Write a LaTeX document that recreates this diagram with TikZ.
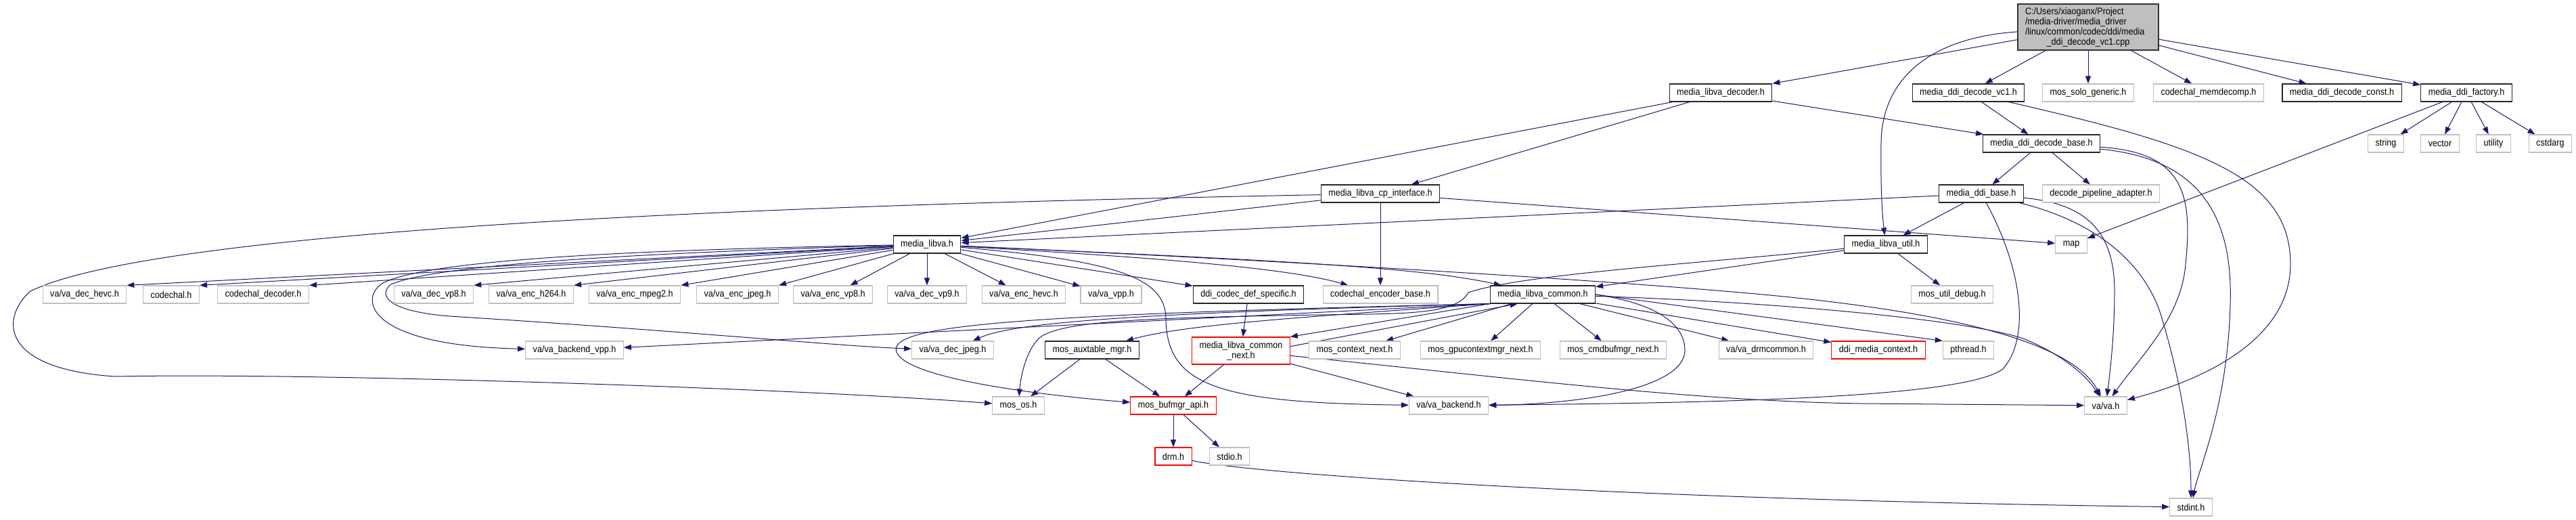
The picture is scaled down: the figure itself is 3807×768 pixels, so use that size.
\documentclass[tikz,border=0pt]{standalone}
\usepackage{fontspec}
\newfontfamily\doxfont{Liberation Sans}[FakeStretch=0.9]
\usetikzlibrary{arrows.meta,backgrounds}
\definecolor{edgeblue}{RGB}{25,25,112}
\definecolor{boxgrey}{RGB}{191,191,191}

\begin{document}
\begin{tikzpicture}[x=1pt, y=-1pt,
  fileBox/.style={rectangle, minimum height=26pt, inner xsep=11pt, inner ysep=0pt,
                  line width=1.2pt, fill=white, text=black,
                  font=\doxfont\fontsize{14}{15}\selectfont},
  docFile/.style={fileBox, draw=black!85},
  extFile/.style={fileBox, draw=boxgrey},
  cutFile/.style={fileBox, draw=red},
  rootFile/.style={fileBox, draw=black!80, fill=boxgrey, text width=186pt,
                   align=left, inner ysep=5pt},
  incl/.style={draw=edgeblue, line width=1pt, ->},
  >={Triangle[length=11pt,width=8pt]}
]
  \useasboundingbox (0,0) rectangle (3807,768);

  % === Source file ===
  \node[rootFile] (root) at (3086,40)
    {C:/Users/xiaoganx/Project\\/media-driver/media\_driver\\/linux/common/codec/ddi/media\\\makebox[186pt]{\_ddi\_decode\_vc1.cpp}};

  % === Direct includes ===
  \node[docFile] (decoder)   at (2543,137) {media\_libva\_decoder.h};
  \node[docFile] (decvc1)    at (2909,137) {media\_ddi\_decode\_vc1.h};
  \node[extFile] (sologen)   at (3086,137) {mos\_solo\_generic.h};
  \node[extFile] (memdecomp) at (3264,137) {codechal\_memdecomp.h};
  \node[docFile] (decconst)  at (3461,137) {media\_ddi\_decode\_const.h};
  \node[docFile] (factory)   at (3645,137) {media\_ddi\_factory.h};

  \node[docFile] (decbase) at (3017,212) {media\_ddi\_decode\_base.h};
  \node[extFile] (string)  at (3526,212) {string};
  \node[extFile] (vector)  at (3606,212) {vector};
  \node[extFile] (utility) at (3685,212) {utility};
  \node[extFile] (cstdarg) at (3769,212) {cstdarg};

  \node[docFile] (cpintf)    at (2040,286) {media\_libva\_cp\_interface.h};
  \node[docFile] (ddibase)   at (2928,286) {media\_ddi\_base.h};
  \node[extFile] (pipeadapt) at (3105,286) {decode\_pipeline\_adapter.h};

  \node[docFile] (libva)     at (1370,361) {media\_libva.h};
  \node[docFile] (libvautil) at (2787,361) {media\_libva\_util.h};
  \node[extFile] (map)       at (3061,361) {map};

  % === media_libva.h level ===
  \node[extFile] (decHevc)     at (125,435)  {va/va\_dec\_hevc.h};
  \node[extFile] (codechal)    at (253,435)  {codechal.h};
  \node[extFile] (chalDecoder) at (389,435)  {codechal\_decoder.h};
  \node[extFile] (decVp8)      at (641,435)  {va/va\_dec\_vp8.h};
  \node[extFile] (encH264)     at (785,435)  {va/va\_enc\_h264.h};
  \node[extFile] (encMpeg2)    at (938,435)  {va/va\_enc\_mpeg2.h};
  \node[extFile] (encJpeg)     at (1090,435) {va/va\_enc\_jpeg.h};
  \node[extFile] (encVp8)      at (1231,435) {va/va\_enc\_vp8.h};
  \node[extFile] (decVp9)      at (1370,435) {va/va\_dec\_vp9.h};
  \node[extFile] (encHevc)     at (1513,435) {va/va\_enc\_hevc.h};
  \node[extFile] (vaVpp)       at (1642,435) {va/va\_vpp.h};
  \node[docFile] (codecDef)    at (1845,435) {ddi\_codec\_def\_specific.h};
  \node[extFile] (encBase)     at (2040,435) {codechal\_encoder\_base.h};
  \node[docFile] (common)      at (2280,435) {media\_libva\_common.h};
  \node[extFile] (utilDebug)   at (2885,435) {mos\_util\_debug.h};

  \node[extFile] (backendVpp) at (849,517)  {va/va\_backend\_vpp.h};
  \node[extFile] (decJpeg)    at (1408,517) {va/va\_dec\_jpeg.h};
  \node[docFile] (auxtable)   at (1614,517) {mos\_auxtable\_mgr.h};
  \node[cutFile, align=center, minimum height=40pt] (commonNext) at (1834,518)
    {media\_libva\_common\\\_next.h};
  \node[extFile] (ctxNext)    at (2002,517) {mos\_context\_next.h};
  \node[extFile] (gpuNext)    at (2188,517) {mos\_gpucontextmgr\_next.h};
  \node[extFile] (cmdNext)    at (2384,517) {mos\_cmdbufmgr\_next.h};
  \node[extFile] (drmcommon)  at (2610,517) {va/va\_drmcommon.h};
  \node[cutFile] (mediaCtx)   at (2776,517) {ddi\_media\_context.h};
  \node[extFile] (pthread)    at (2909,517) {pthread.h};

  \node[extFile] (mosos)   at (1505,599) {mos\_os.h};
  \node[cutFile] (bufmgr)  at (1734,599) {mos\_bufmgr\_api.h};
  \node[extFile] (backend) at (2141,599) {va/va\_backend.h};
  \node[extFile] (vah)     at (3112,599) {va/va.h};

  \node[cutFile] (drm)    at (1734,674) {drm.h};
  \node[extFile] (stdio)  at (1817,674) {stdio.h};
  \node[extFile] (stdint) at (3238,749) {stdint.h};

  \begin{pgfonlayer}{background}
  % === Edges from the source file ===
  \draw[incl] (root) -- (decoder);
  \draw[incl] (root) -- (decvc1);
  \draw[incl] (root) -- (sologen);
  \draw[incl] (root) -- (memdecomp);
  \draw[incl] (root) -- (decconst);
  \draw[incl] (root) -- (factory);
  \draw[incl] (root) .. controls (2860,55) and (2782,110) .. (2780,210)
    .. controls (2779,280) and (2782,320) .. (libvautil);

  % === Decoder headers ===
  \draw[incl] (decoder) -- (libva);
  \draw[incl] (decoder) -- (cpintf);
  \draw[incl] (decoder) -- (decbase);
  \draw[incl] (decvc1) -- (decbase);
  \draw[incl] (decvc1) .. controls (3250,215) and (3385,260) .. (3385,390)
    .. controls (3385,500) and (3260,560) .. (vah);
  \draw[incl] (decbase) -- (ddibase);
  \draw[incl] (decbase) -- (pipeadapt);
  \draw[incl] (decbase) .. controls (3230,225) and (3240,290) .. (3230,390)
    .. controls (3224,470) and (3160,530) .. (vah);
  \draw[incl] (decbase) .. controls (3260,235) and (3300,330) .. (3296,450)
    .. controls (3292,600) and (3250,690) .. (stdint);
  \draw[incl] (ddibase) -- (libva);
  \draw[incl] (ddibase) -- (libvautil);
  \draw[incl] (ddibase) .. controls (3070,300) and (3125,330) .. (3125,430)
    .. controls (3125,500) and (3117,560) .. (vah);
  \draw[incl] (ddibase) .. controls (3110,330) and (3175,400) .. (3195,470)
    .. controls (3225,570) and (3238,660) .. (stdint);
  \draw[incl] (ddibase) .. controls (2990,400) and (3000,500) .. (2960,545)
    .. controls (2900,590) and (2500,595) .. (backend);

  % === Factory ===
  \draw[incl] (factory) -- (string);
  \draw[incl] (factory) -- (vector);
  \draw[incl] (factory) -- (utility);
  \draw[incl] (factory) -- (cstdarg);
  \draw[incl] (factory) -- (map);

  % === CP interface ===
  \draw[incl] (cpintf) -- (libva);
  \draw[incl] (cpintf) -- (map);
  \draw[incl] (cpintf) -- (encBase);
  \draw[incl] (cpintf) .. controls (1300,300) and (250,330) .. (45,430)
    .. controls (0,470) and (0,545) .. (170,556)
    .. controls (480,550) and (1200,575) .. (mosos);

  % === media_libva.h ===
  \draw[incl] (libva) -- (decHevc.north east);
  \draw[incl] (libva) -- (codechal.north east);
  \draw[incl] (libva) -- (chalDecoder.north east);
  \draw[incl] (libva) -- (decVp8.north east);
  \draw[incl] (libva) -- (encH264.north east);
  \draw[incl] (libva) -- (encMpeg2.north east);
  \draw[incl] (libva) -- (encJpeg.north east);
  \draw[incl] (libva) -- (encVp8);
  \draw[incl] (libva) -- (decVp9);
  \draw[incl] (libva) -- (encHevc);
  \draw[incl] (libva) -- (vaVpp);
  \draw[incl] (libva) -- (codecDef);
  \draw[incl] (libva) .. controls (1700,380) and (1900,395) .. (encBase);
  \draw[incl] (libva) .. controls (1900,385) and (2100,395) .. (common);
  \draw[incl] (libva) .. controls (1900,385) and (2500,420) .. (2700,445)
    .. controls (2950,475) and (3070,520) .. (vah);
  \draw[incl] (libva) .. controls (1650,385) and (1722,410) .. (1723,470)
    .. controls (1724,570) and (1800,595) .. (backend);
  \draw[incl] (libva) .. controls (1000,368) and (640,380) .. (566,418)
    .. controls (530,440) and (540,510) .. (backendVpp);
  \draw[incl] (libva) .. controls (1000,372) and (650,388) .. (578,420)
    .. controls (558,435) and (570,462) .. (680,468)
    .. controls (1000,488) and (1250,512) .. (decJpeg);
  \draw[incl] (codecDef) -- (commonNext);

  % === media_libva_common.h ===
  \draw[incl] (common) -- (ctxNext);
  \draw[incl] (common) -- (gpuNext);
  \draw[incl] (common) -- (cmdNext);
  \draw[incl] (common) -- (drmcommon);
  \draw[incl] (common) -- (mediaCtx);
  \draw[incl] (common.east) -- (pthread.north west);
  \draw[incl] (common) .. controls (2600,445) and (2900,470) .. (2990,500)
    .. controls (3040,520) and (3080,550) .. (vah);
  \draw[incl] (common.east) .. controls (2460,450) and (2490,485) .. (2490,517)
    .. controls (2490,575) and (2330,597) .. (backend);
  \draw[incl] (common.south west) -- (backendVpp);
  \draw[incl] (common.south west) .. controls (1700,462) and (1500,475) .. (decJpeg);
  \draw[incl] (common.south west) .. controls (1900,470) and (1750,480) .. (auxtable);
  \draw[incl] (common.south west) .. controls (1500,465) and (1310,480) .. (1325,520)
    .. controls (1340,560) and (1550,585) .. (bufmgr);
  \draw[incl] (common.south west) -- (commonNext.north east);

  % === media_libva_util.h ===
  \draw[incl] (libvautil) -- (utilDebug);
  \draw[incl] (libvautil) -- (common);
  \draw[incl] (libvautil) .. controls (2500,390) and (2250,405) .. (2170,432)
    .. controls (2150,470) and (2050,462) .. (1900,466)
    .. controls (1650,470) and (1560,478) .. (1535,500)
    .. controls (1515,520) and (1508,560) .. (mosos);

  % === Lower levels ===
  \draw[incl] (commonNext.5) -- (common.200);
  \draw[incl] (commonNext) -- (bufmgr);
  \draw[incl] (commonNext) -- (backend);
  \draw[incl] (commonNext) .. controls (2250,560) and (2500,592) .. (2750,596) -- (vah);
  \draw[incl] (auxtable) -- (mosos);
  \draw[incl] (auxtable) -- (bufmgr);
  \draw[incl] (bufmgr) -- (drm);
  \draw[incl] (bufmgr) -- (stdio);
  \draw[incl] (drm) .. controls (1850,700) and (2400,738) .. (stdint);
  \end{pgfonlayer}
\end{tikzpicture}
\end{document}
